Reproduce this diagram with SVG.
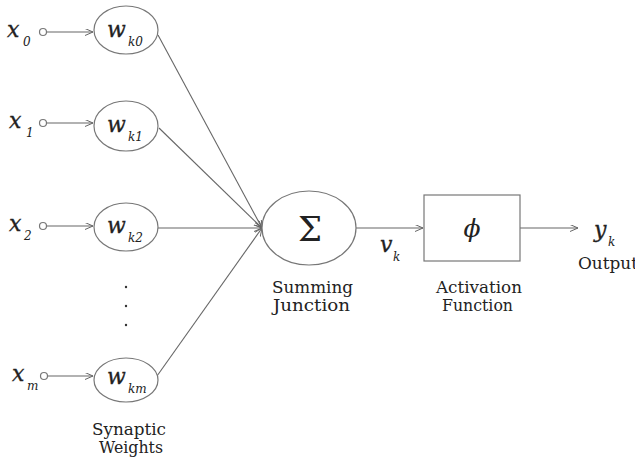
<svg xmlns="http://www.w3.org/2000/svg" width="635" height="458" viewBox="0 0 635 458">
<defs>
<marker id="arr" markerUnits="userSpaceOnUse" markerWidth="10" markerHeight="10" refX="8" refY="3.5" orient="auto">
<path d="M0,0 L8,3.5 L0,7" fill="none" stroke="#666" stroke-width="1"/>
</marker>
<style>
text{font-family:'DejaVu Serif','Liberation Serif',serif;fill:#222}
.ln{stroke:#666;stroke-width:1.1;fill:none}
.nd{fill:#fff;stroke:#777;stroke-width:1.2}
.it{font-style:italic}
.big{font-size:22px;stroke:#222;stroke-width:0.3}
.sub{font-size:12px}
.lb{font-size:16px}
.pt{fill:#333}
</style>
</defs>
<rect width="635" height="458" fill="#fff"/>

<g id="connectors">
<line class="ln" x1="47" y1="32" x2="93" y2="32" marker-end="url(#arr)"/>
<line class="ln" x1="47" y1="123" x2="93" y2="123" marker-end="url(#arr)"/>
<line class="ln" x1="47" y1="226" x2="93" y2="226" marker-end="url(#arr)"/>
<line class="ln" x1="47" y1="376" x2="93" y2="376" marker-end="url(#arr)"/>
<line class="ln" x1="158" y1="35" x2="262" y2="228" marker-end="url(#arr)"/>
<line class="ln" x1="159" y1="128" x2="262" y2="228" marker-end="url(#arr)"/>
<line class="ln" x1="158" y1="228" x2="262" y2="228" marker-end="url(#arr)"/>
<line class="ln" x1="157" y1="376" x2="262" y2="228" marker-end="url(#arr)"/>
<line class="ln" x1="356" y1="228" x2="423" y2="228" marker-end="url(#arr)"/>
<line class="ln" x1="520" y1="228" x2="578" y2="228" marker-end="url(#arr)"/>
</g>

<g id="input-x0">
<circle class="nd" cx="43" cy="32" r="3.5"/>
<text class="it big" x="7" y="37">x</text><text class="it sub" x="23" y="46">0</text>
</g>
<g id="input-x1">
<circle class="nd" cx="43" cy="123" r="3.5"/>
<text class="it big" x="9" y="128">x</text><text class="it sub" x="26" y="137">1</text>
</g>
<g id="input-x2">
<circle class="nd" cx="43" cy="226" r="3.5"/>
<text class="it big" x="9" y="231">x</text><text class="it sub" x="24" y="240">2</text>
</g>
<g id="input-xm">
<circle class="nd" cx="44" cy="376" r="3.5"/>
<text class="it big" x="12" y="381">x</text><text class="it sub" x="27" y="390">m</text>
</g>

<g id="weight-k0">
<ellipse class="nd" cx="126" cy="30" rx="32" ry="24"/>
<text class="it big" x="107" y="37">w</text><text class="it sub" x="128" y="46">k0</text>
</g>
<g id="weight-k1">
<ellipse class="nd" cx="126" cy="126" rx="32" ry="25"/>
<text class="it big" x="107" y="132">w</text><text class="it sub" x="128" y="141">k1</text>
</g>
<g id="weight-k2">
<ellipse class="nd" cx="126" cy="227" rx="32" ry="24"/>
<text class="it big" x="107" y="233">w</text><text class="it sub" x="128" y="242">k2</text>
</g>
<g id="dots">
<circle class="pt" cx="126" cy="287" r="1.2"/>
<circle class="pt" cx="126" cy="306" r="1.2"/>
<circle class="pt" cx="126" cy="325" r="1.2"/>
</g>
<g id="weight-km">
<ellipse class="nd" cx="126" cy="380" rx="32" ry="22"/>
<text class="it big" x="107" y="384">w</text><text class="it sub" x="128" y="393">km</text>
</g>
<g id="weights-label">
<text class="lb" x="92" y="435" textLength="74" lengthAdjust="spacingAndGlyphs">Synaptic</text>
<text class="lb" x="99" y="453" textLength="64" lengthAdjust="spacingAndGlyphs">Weights</text>
</g>

<g id="summing-junction">
<ellipse class="nd" cx="309" cy="228" rx="47" ry="37"/>
<text x="310" y="241" text-anchor="middle" font-size="34">Σ</text>
<text class="lb" x="272" y="293" textLength="81" lengthAdjust="spacingAndGlyphs">Summing</text>
<text class="lb" x="273" y="311" textLength="77" lengthAdjust="spacingAndGlyphs">Junction</text>
</g>

<g id="vk">
<text class="it big" x="380" y="252">v</text><text class="it sub" x="393" y="261">k</text>
</g>

<g id="activation">
<rect class="nd" x="424" y="195" width="96" height="66"/>
<text class="it" x="472" y="237" text-anchor="middle" font-size="25">ϕ</text>
<text class="lb" x="436" y="293" textLength="86" lengthAdjust="spacingAndGlyphs">Activation</text>
<text class="lb" x="442" y="311" textLength="71" lengthAdjust="spacingAndGlyphs">Function</text>
</g>

<g id="output">
<text class="it big" x="594" y="237">y</text><text class="it sub" x="608" y="246">k</text>
<text class="lb" x="578" y="269" textLength="60" lengthAdjust="spacingAndGlyphs">Output</text>
</g>
</svg>
